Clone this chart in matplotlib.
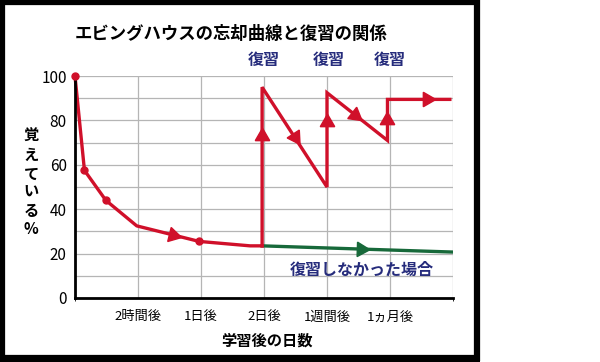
import matplotlib
matplotlib.use("Agg")
from matplotlib import pyplot as plt
from matplotlib.patches import Rectangle
import numpy as np

plt.rcParams['font.family'] = ['Noto Sans CJK JP', 'DejaVu Sans']

# data (x: 0..6 = grid columns, y: % remembered)
x_ticks = [1, 2, 3, 4, 5]
x_labels = ['2時間後', '1日後', '2日後', '1週間後', '1ヵ月後']
y_ticks = [0, 20, 40, 60, 80, 100]

x_forget = [0, 0.15, 0.49, 0.98, 1.97, 2.78, 2.97]
y_forget = [100, 57.5, 44, 32.5, 25.5, 23.5, 23.5]

x_review = [2.97, 2.97, 4.0, 4.0, 4.96, 4.96, 5.95]
y_review = [23.5, 95, 50, 92.5, 71, 89.5, 89.5]

x_none = [2.97, 6.0]
y_none = [23.5, 20.7]

review_x = [2.97, 4.0, 4.96]

red = '#d0102a'
green = '#17693a'
navy = '#262c7c'

fig = plt.figure(figsize=(6, 3.62), dpi=100)
ax = fig.add_axes([0.125, 0.1768, 0.63, 0.613])
ax.set_xlim(0, 6)
ax.set_ylim(0, 100)

ax.set_yticks(np.arange(0, 101, 10))
ax.grid(True, color='#b5b5b5', lw=0.9)
ax.set_xticks(x_ticks)
ax.set_xticklabels(x_labels, fontsize=9.5)
ax.set_xticks([0, 6], minor=True)
ax.grid(True, which='minor', color='#b5b5b5', lw=0.9)
ax.set_yticklabels([str(v) if v in y_ticks else '' for v in range(0, 101, 10)], fontsize=11)
ax.tick_params(length=0, pad=6)
ax.tick_params(axis='x', pad=9)
for s in ['top', 'right']:
    ax.spines[s].set_visible(False)
for s in ['left', 'bottom']:
    ax.spines[s].set_linewidth(2)
    ax.spines[s].set_zorder(5)

ax.plot(x_none, y_none, color=green, lw=2.4, zorder=3)
ax.plot(x_forget, y_forget, color=red, lw=2.4, zorder=4, clip_on=False)
ax.plot(x_review, y_review, color=red, lw=2.4, zorder=4, solid_joinstyle='miter')
ax.plot([x_forget[i] for i in (0, 1, 2, 4)], [y_forget[i] for i in (0, 1, 2, 4)],
        'o', color=red, ms=5, zorder=6, clip_on=False)


def arrow(xs, ys, i, frac, color):
    p0 = ax.transData.transform((xs[i], ys[i]))
    p1 = ax.transData.transform((xs[i + 1], ys[i + 1]))
    ang = np.degrees(np.arctan2(p1[1] - p0[1], p1[0] - p0[0]))
    px = xs[i] + frac * (xs[i + 1] - xs[i])
    py = ys[i] + frac * (ys[i + 1] - ys[i])
    ax.plot(px, py, marker=(3, 0, ang - 90), color=color, ms=12, zorder=7)


arrow(x_forget, y_forget, 3, 0.58, red)
arrow(x_review, y_review, 0, 0.69, red)
arrow(x_review, y_review, 1, 0.5, red)
arrow(x_review, y_review, 2, 0.69, red)
arrow(x_review, y_review, 3, 0.46, red)
arrow(x_review, y_review, 4, 0.5, red)
arrow(x_review, y_review, 5, 0.63, red)
arrow(x_none, y_none, 0, 0.52, green)

for xr in review_x:
    ax.text(xr + 0.03, 103.5, '復習', color=navy, fontsize=11.5, fontweight='bold',
            ha='center', va='bottom')
ax.text(4.55, 12.5, '復習しなかった場合', color=navy, fontsize=11.5,
        fontweight='bold', ha='center', va='center')

fig.text(0.385, 0.905, 'エビングハウスの忘却曲線と復習の関係', fontsize=12.5,
         fontweight='bold', ha='center', va='center')
fig.text(0.445, 0.06, '学習後の日数', fontsize=11, fontweight='bold',
         ha='center', va='center')
fig.text(0.052, 0.495, '\n'.join('覚えている%'), fontsize=11, fontweight='bold',
         ha='center', va='center', linespacing=1.2)

# black frame around the chart area
fig.patches.append(Rectangle((0.0025, 0.0115), 0.7925, 0.984, transform=fig.transFigure,
                             fill=False, ec='black', lw=4.5))
fig.patches.append(Rectangle((0, 0), 0.8, 0.02, transform=fig.transFigure,
                             fc='black', ec='none'))

fig.savefig('out.png', dpi=100)
